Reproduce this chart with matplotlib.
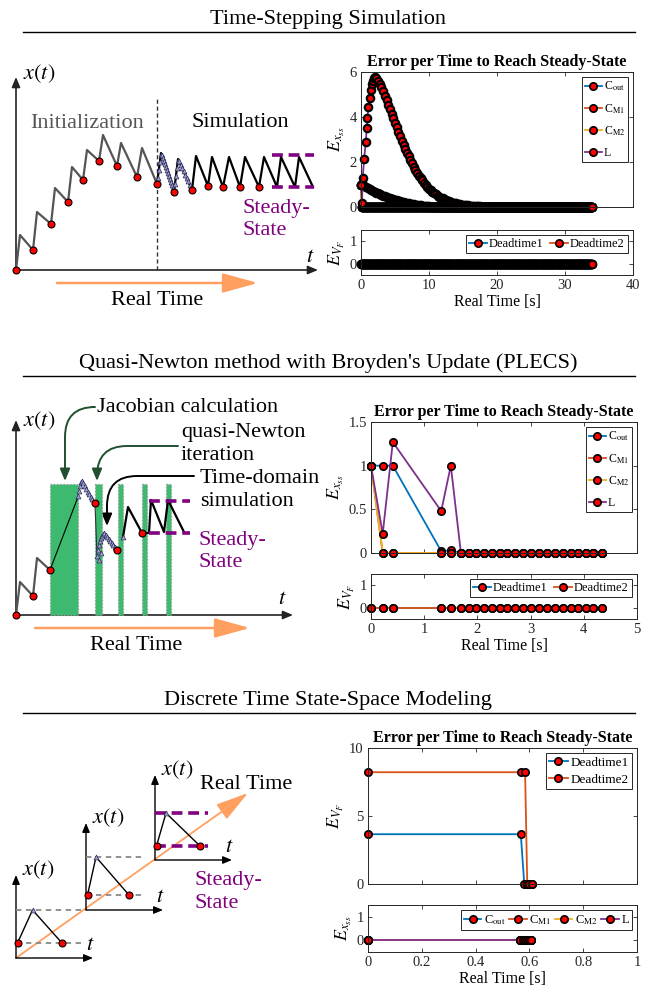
import numpy as np
import matplotlib
matplotlib.use('Agg')
import matplotlib.pyplot as plt
from matplotlib.patches import FancyArrowPatch, Rectangle
from matplotlib.ticker import FuncFormatter

plt.rcParams['font.family'] = ['Liberation Serif', 'DejaVu Serif']
plt.rcParams['mathtext.fontset'] = 'stix'

# ---------------- data for the right-hand error plots ----------------
state_names = [r'C$_\mathrm{out}$', r'C$_\mathrm{M1}$', r'C$_\mathrm{M2}$', 'L']
deadtime_names = ['Deadtime1', 'Deadtime2']
state_colors = ['#0072BD', '#D95319', '#EDB120', '#7E2F8E']

# time-stepping simulation
ts_step = 0.25        # sample spacing of the decaying curves
ts_zero_step = 0.1    # sample spacing of the settled (zero) parts
ts_end = 33.9
ts_L_rise_t = [0.0, 0.15, 0.25, 0.45, 0.7, 0.85, 0.95, 1.1, 1.25, 1.4, 1.55, 1.7, 1.85]
ts_L_rise = [1.0, 0.2, 1.27, 2.12, 2.9, 3.5, 3.94, 4.43, 4.83, 5.2, 5.47, 5.61, 5.72]
# L from 2.0 s onwards
ts_L_decay = [5.76, 5.72, 5.62, 5.48, 5.32, 5.14, 4.95, 4.75, 4.55, 4.35, 4.15, 3.95,
              3.75, 3.55, 3.35, 3.15, 2.95, 2.77, 2.6, 2.42, 2.25, 2.1, 1.95, 1.8,
              1.65, 1.52, 1.4, 1.29, 1.18, 1.08, 0.98, 0.9, 0.82, 0.75, 0.68, 0.62,
              0.56, 0.51, 0.46, 0.42, 0.38, 0.34, 0.31, 0.28, 0.25, 0.22, 0.2, 0.18,
              0.16, 0.14, 0.13, 0.11, 0.1, 0.09, 0.08, 0.07, 0.06, 0.05, 0.05, 0.04,
              0.04, 0.03, 0.03, 0.02, 0.02, 0.02, 0.01, 0.01, 0.01]
# C_out from 0 s onwards
ts_Cout = [1.0, 0.98, 0.95, 0.9, 0.85, 0.8, 0.76, 0.72, 0.68, 0.64, 0.61, 0.57,
           0.54, 0.51, 0.48, 0.45, 0.42, 0.39, 0.37, 0.34, 0.32, 0.3, 0.28, 0.26,
           0.24, 0.22, 0.2, 0.18, 0.17, 0.15, 0.14, 0.12, 0.11, 0.09, 0.08, 0.07,
           0.06, 0.05, 0.04, 0.035, 0.03, 0.02, 0.02, 0.01, 0.01]
ts_CM_start = [1.0]

# quasi-Newton (PLECS)
qn_t = [0, 0.22, 0.41, 1.32, 1.5, 1.69, 1.84, 1.98, 2.13, 2.27, 2.42, 2.56, 2.71,
        2.86, 3.01, 3.15, 3.31, 3.45, 3.6, 3.75, 3.89, 4.04, 4.18, 4.34]
qn_Cout = [1, 1, 1, 0.02, 0.03] + [0] * 19
qn_CM1 = [1] + [0] * 23
qn_CM2 = [1] + [0] * 23
qn_L = [1, 0.22, 1.27, 0.48, 1.0] + [0] * 19
qn_VF = [0] * 24

# discrete time state-space
ds_t1 = [0, 0.568, 0.581, 0.59, 0.6, 0.609]
ds_VF1 = [3.66, 3.66, 0, 0, 0, 0]
ds_t2 = [0, 0.568, 0.584, 0.592, 0.6, 0.609]
ds_VF2 = [8.22, 8.22, 8.22, 0, 0, 0]
ds_tx = [0, 0.566, 0.575, 0.584, 0.59, 0.598, 0.605]
ds_x = [0, 0, 0, 0, 0, 0, 0]

# ---------------- data for the left-hand sketches (pixel coords) ----------------
sk1_init_x = [16, 20, 33, 37, 51, 55, 68, 72, 83, 87, 99, 103, 117, 121, 137, 142, 157]
sk1_init_y = [270, 235, 250, 212, 224, 188, 202, 167, 180, 150, 161, 135, 166, 143, 177, 148, 184]
sk1_sim_x = [157, 161, 174, 178, 192, 196, 208, 212, 223, 229, 240, 245, 259, 264, 277, 281, 295, 299, 313]
sk1_sim_y = [184, 153, 192, 159, 190, 156, 186, 157, 187, 157, 187, 157, 187, 157, 187, 157, 187, 157, 187]
sk1_dot_x = [16, 33, 51, 68, 83, 99, 117, 137, 157, 174, 192, 208, 223, 240, 259]
sk1_dot_y = [270, 250, 224, 202, 180, 161, 166, 177, 184, 192, 190, 186, 187, 187, 187]
sk1_tri_x = [157.5, 158.5, 159.5, 160.5, 161.5, 162.5, 163.5, 164.5, 165.5, 166.5, 167.5,
             168.5, 169.5, 170.5, 171.5, 172.5, 175, 176, 177, 178, 179, 180.5, 182,
             183.5, 185, 186.5, 188, 189.5, 191]
sk1_tri_y = [178, 170, 162, 155, 155, 158, 161, 164, 167, 170, 173, 176, 179, 182, 185,
             188, 184, 176, 168, 161, 161, 164.5, 168, 171, 174.5, 178, 181, 184.5, 188]

sk2_init_x = [16, 20, 33, 37, 50]
sk2_init_y = [615, 582, 596, 558, 570]
sk2_jump_x = [50, 78]
sk2_jump_y = [570, 497]
sk2_drop_x = [95, 97]
sk2_drop_y = [503, 557]
sk2_sim_x = [123, 128, 142, 149, 151, 164, 168, 184]
sk2_sim_y = [537, 507, 533, 533, 500, 532, 500, 532]
sk2_dot_x = [16, 33, 50, 95, 117, 142]
sk2_dot_y = [615, 596, 570, 503, 550, 533]
sk2_tri_x = [78, 79, 80, 81, 82, 83, 84.5, 86, 87.5, 89, 90.5, 92, 93.5,
             97, 98, 99, 100, 101, 102, 103, 104, 105.5, 107, 108.5, 110, 111.5, 113,
             114.5, 116, 99, 101, 123]
sk2_tri_y = [496, 491, 486, 482, 481, 483, 486, 489, 492, 494, 497, 499, 502,
             556, 550, 545, 541, 538, 536, 534, 533, 535, 537, 539, 541, 543, 545,
             547, 549, 560, 553, 537]
sk2_bars_x = [50, 95, 118, 142, 166]
sk2_bars_w = [28, 7, 5, 5, 5]

sk3_origin_x = [16, 86, 155]
sk3_origin_y = [958, 910, 860]
sk3_top_y = [875, 823, 775]
sk3_right_x = [93, 163, 232]
sk3_low_y = [943, 895, 846]
sk3_high_y = [910, 857, 813]
sk3_peak_x = [32.5, 96, 166]
sk3_end_x = [62, 129, 200]
sk3_dash_end = [83, 143, 208]

purple = '#800080'
orange = '#FFA060'
dkgreen = '#1F4F2F'

fig = plt.figure(figsize=(6.55, 9.92), dpi=100)
ov = fig.add_axes([0, 0, 1, 1])
ov.set_xlim(0, 655)
ov.set_ylim(992, 0)
ov.axis('off')

# section headings
section_titles = ['Time-Stepping Simulation',
                  "Quasi-Newton method with Broyden's Update (PLECS)",
                  'Discrete Time State-Space Modeling']
title_base = [24, 368, 705]
rule_y = [32, 376, 713]
for s, yb, yr in zip(section_titles, title_base, rule_y):
    ov.text(328, yb, s, ha='center', va='baseline', fontsize=16)
    ov.plot([23, 635], [yr, yr], color='k', lw=1.0)


def arrow(p0, p1, color='k', lw=1.0, style='-|>,head_length=0.6,head_width=0.25', ms=10, conn=None):
    kw = {}
    if conn is not None:
        kw['connectionstyle'] = conn
    a = FancyArrowPatch(p0, p1, arrowstyle=style, mutation_scale=ms, color=color,
                        lw=lw, shrinkA=0, shrinkB=0, **kw)
    ov.add_patch(a)


def red_dots(xs, ys):
    ov.plot(xs, ys, 'o', ms=5, mfc='red', mec='k', mew=0.8, zorder=6)


def tris(xs, ys):
    ov.plot(xs, ys, '^', ms=3.5, mfc='#a0a0d4', mec='#2a2a55', mew=0.5, zorder=5)


big_head = '-|>,head_length=1.45,head_width=0.4'

# ---- sketch 1: time stepping ----
arrow((16, 270), (16, 77), color='#222222', lw=1.2)
arrow((16, 270), (318, 270), color='#222222', lw=1.2)
ov.text(39, 74, r'$x(t)$', ha='center', va='center', fontsize=16)
ov.text(310, 258, r'$t$', ha='center', va='center', fontsize=16)
ov.plot([157, 157], [270, 98], color='#333333', lw=1.0, ls=(0, (3, 2)))
ov.plot(sk1_init_x, sk1_init_y, color='#555555', lw=1.6)
ov.plot(sk1_sim_x, sk1_sim_y, color='k', lw=1.6)
tris(sk1_tri_x, sk1_tri_y)
red_dots(sk1_dot_x, sk1_dot_y)
ov.plot([272, 314], [155, 155], color=purple, lw=2.6, ls=(0, (3, 1.6)))
ov.plot([272, 314], [187, 187], color=purple, lw=2.6, ls=(0, (3, 1.6)))
ov.text(87, 128, 'Initialization', ha='center', va='baseline', fontsize=16, color='#555555')
ov.text(240, 127, 'Simulation', ha='center', va='baseline', fontsize=16)
ov.text(243, 213, 'Steady-', ha='left', va='baseline', fontsize=16, color=purple)
ov.text(243, 235, 'State', ha='left', va='baseline', fontsize=16, color=purple)
arrow((57, 283), (258, 283), color=orange, lw=1.8, style=big_head, ms=15)
ov.text(157, 305, 'Real Time', ha='center', va='baseline', fontsize=16)

# ---- sketch 2: quasi-Newton ----
for bx, bw in zip(sk2_bars_x, sk2_bars_w):
    ov.add_patch(Rectangle((bx, 484), bw, 131, facecolor='#3DBA6F', edgecolor='#999999',
                           lw=0.9, ls=':', zorder=2))
arrow((16, 615), (16, 420), color='#222222', lw=1.2)
arrow((16, 615), (293, 615), color='#222222', lw=1.2)
ov.text(39, 421, r'$x(t)$', ha='center', va='center', fontsize=16)
ov.text(282, 600, r'$t$', ha='center', va='center', fontsize=16)
ov.plot(sk2_init_x, sk2_init_y, color='#555555', lw=1.6, zorder=3)
ov.plot(sk2_jump_x, sk2_jump_y, color='k', lw=0.8, zorder=3)
ov.plot(sk2_drop_x, sk2_drop_y, color='#333333', lw=0.8, zorder=3)
ov.plot(sk2_sim_x, sk2_sim_y, color='k', lw=1.6, zorder=3)
tris(sk2_tri_x, sk2_tri_y)
red_dots(sk2_dot_x, sk2_dot_y)
ov.plot([149, 190], [501, 501], color=purple, lw=2.6, ls=(0, (3, 1.6)), zorder=4)
ov.plot([149, 190], [533, 533], color=purple, lw=2.6, ls=(0, (3, 1.6)), zorder=4)
ov.text(97, 412, 'Jacobian calculation', ha='left', va='baseline', fontsize=16)
ov.text(181, 437, 'quasi-Newton', ha='left', va='baseline', fontsize=16)
ov.text(181, 460, 'iteration', ha='left', va='baseline', fontsize=16)
ov.text(200, 483, 'Time-domain', ha='left', va='baseline', fontsize=16)
ov.text(200, 506, 'simulation', ha='left', va='baseline', fontsize=16)
ov.text(198, 545, 'Steady-', ha='left', va='baseline', fontsize=16, color=purple)
ov.text(198, 567, 'State', ha='left', va='baseline', fontsize=16, color=purple)
arrow((92, 407), (65, 481), color=dkgreen, lw=1.4, ms=12,
      conn='angle,angleA=0,angleB=90,rad=30')
arrow((178, 446), (97, 481), color=dkgreen, lw=1.4, ms=12,
      conn='angle,angleA=0,angleB=90,rad=30')
arrow((194, 476), (107, 526), color='k', lw=1.4, ms=12,
      conn='angle,angleA=0,angleB=90,rad=30')
arrow((35, 628), (250, 628), color=orange, lw=1.8, style=big_head, ms=15)
ov.text(136, 650, 'Real Time', ha='center', va='baseline', fontsize=16)

# ---- sketch 3: discrete time state space ----
arrow((16, 958), (248, 793), color=orange, lw=1.3, style=big_head, ms=14)
for i in range(3):
    ox, oy = sk3_origin_x[i], sk3_origin_y[i]
    arrow((ox, oy), (ox, sk3_top_y[i]), color='k', lw=1.0, ms=9)
    arrow((ox, oy), (sk3_right_x[i], oy), color='k', lw=1.0, ms=9)
    if i < 2:
        dc, dlw, dls = '#888888', 1.3, (0, (3, 2.5))
    else:
        dc, dlw, dls = purple, 2.6, (0, (3, 1.6))
    ov.plot([ox, sk3_dash_end[i]], [sk3_high_y[i]] * 2, color=dc, lw=dlw, ls=dls)
    ov.plot([ox, sk3_dash_end[i]], [sk3_low_y[i]] * 2, color=dc, lw=dlw, ls=dls)
    ov.plot([ox + 1.5, sk3_peak_x[i], sk3_end_x[i]],
            [sk3_low_y[i], sk3_high_y[i], sk3_low_y[i]], color='k', lw=1.0)
    tris([sk3_peak_x[i]], [sk3_high_y[i]])
    red_dots([ox + 1.5, sk3_end_x[i]], [sk3_low_y[i]] * 2)
    ov.text(ox + 22, sk3_top_y[i] - 5, r'$x(t)$', ha='center', va='center', fontsize=16)
    ov.text(sk3_right_x[i] - 3, oy - 12, r'$t$', ha='center', va='center', fontsize=16)
ov.text(200, 789, 'Real Time', ha='left', va='baseline', fontsize=16)
ov.text(194, 885, 'Steady-', ha='left', va='baseline', fontsize=16, color=purple)
ov.text(194, 908, 'State', ha='left', va='baseline', fontsize=16, color=purple)

# ---------------- right-hand MATLAB-style plots ----------------
W, H = 655.0, 992.0


def px_axes(x0, y0, x1, y1):
    return fig.add_axes([x0 / W, 1 - y1 / H, (x1 - x0) / W, (y1 - y0) / H])


fmt = FuncFormatter(lambda v, p: '%g' % v)
mk = dict(marker='o', mfc='red', mec='k', ms=5.3, mew=1.2, lw=1.3, clip_on=False)
mk_dense = dict(mk, mew=1.6)


def style(ax, xlim, ylim, xticks, yticks, show_x):
    ax.set_xlim(xlim)
    ax.set_ylim(ylim)
    ax.set_xticks(xticks)
    ax.set_yticks(yticks)
    ax.xaxis.set_major_formatter(fmt)
    ax.yaxis.set_major_formatter(fmt)
    ax.tick_params(direction='in', length=3, width=0.6, top=True, right=True,
                   labelsize=10.5, colors='#262626', pad=3)
    ax.tick_params(labelbottom=show_x)
    for s in ax.spines.values():
        s.set_color('#262626')
        s.set_linewidth(0.7)


def legend(ax, ncol, fs, spacing=0.35, colsp=0.5):
    lg = ax.legend(loc='upper right', ncol=ncol, fontsize=fs, fancybox=False,
                   framealpha=1, edgecolor='#262626', handlelength=1.4,
                   handletextpad=0.2, borderpad=0.25, labelspacing=spacing,
                   columnspacing=colsp, borderaxespad=0.4, numpoints=1)
    lg.get_frame().set_linewidth(0.7)
    for h in lg.legend_handles:
        h.set_markeredgewidth(1.2)


title = 'Error per Time to Reach Steady-State'

# panel 1: time stepping
zero_t = np.round(np.arange(0, ts_end + 0.001, ts_zero_step), 3)
n0 = len(zero_t)
decay_t = [2.0 + ts_step * k for k in range(len(ts_L_decay))]
L_t = ts_L_rise_t + decay_t + [t for t in zero_t if t > decay_t[-1]]
L_v = ts_L_rise + ts_L_decay + [0] * (len(L_t) - len(ts_L_rise) - len(ts_L_decay))
cout_t = [ts_step * k for k in range(len(ts_Cout))]
Cout_t = cout_t + [t for t in zero_t if t > cout_t[-1]]
Cout_v = ts_Cout + [0] * (len(Cout_t) - len(ts_Cout))
CM_v = ts_CM_start + [0] * (n0 - 1)
a1 = px_axes(361, 72, 633, 207)
a1.plot(Cout_t, Cout_v, color=state_colors[0], label=state_names[0], **mk_dense)
a1.plot(zero_t, CM_v, color=state_colors[1], label=state_names[1], **mk_dense)
a1.plot(zero_t, CM_v, color=state_colors[2], label=state_names[2], **mk_dense)
a1.plot(L_t, L_v, color=state_colors[3], label=state_names[3], **mk_dense)
# the last sample stays visible as a red marker
a1.plot([zero_t[-1]], [0], color=state_colors[3], **mk)
style(a1, (0, 40), (0, 6), [0, 10, 20, 30, 40], [0, 2, 4, 6], False)
a1.set_title(title, fontsize=11.5, fontweight='bold', pad=4)
a1.set_ylabel(r'$E_{x_{ss}}$', fontsize=13, labelpad=2)
legend(a1, 1, 8.5, spacing=0.75)

b1 = px_axes(361, 230, 633, 275)
b1.plot(zero_t, [0] * n0, color=state_colors[0], label=deadtime_names[0], **mk_dense)
b1.plot(zero_t, [0] * n0, color=state_colors[1], label=deadtime_names[1], **mk_dense)
b1.plot([zero_t[-1]], [0], color=state_colors[1], **mk)
style(b1, (0, 40), (-0.5, 1.5), [0, 10, 20, 30, 40], [0, 1], True)
b1.set_ylabel(r'$E_{V_F}$', fontsize=13, labelpad=2)
b1.set_xlabel('Real Time [s]', fontsize=11.5, labelpad=1)
legend(b1, 2, 9)

# panel 2: quasi-Newton
a2 = px_axes(371, 422, 637, 553)
for v, c, nm in zip([qn_Cout, qn_CM1, qn_CM2, qn_L], state_colors, state_names):
    a2.plot(qn_t, v, color=c, label=nm, **mk)
style(a2, (0, 5), (0, 1.5), [0, 1, 2, 3, 4, 5], [0, 0.5, 1, 1.5], False)
a2.set_title(title, fontsize=11.5, fontweight='bold', pad=4)
a2.set_ylabel(r'$E_{x_{ss}}$', fontsize=13, labelpad=2)
legend(a2, 1, 8.5, spacing=0.75)

b2 = px_axes(371, 574, 637, 619)
b2.plot(qn_t, qn_VF, color=state_colors[0], label=deadtime_names[0], **mk)
b2.plot(qn_t, qn_VF, color=state_colors[1], label=deadtime_names[1], **mk)
style(b2, (0, 5), (-0.5, 1.5), [0, 1, 2, 3, 4, 5], [0, 1], True)
b2.set_ylabel(r'$E_{V_F}$', fontsize=13, labelpad=2)
b2.set_xlabel('Real Time [s]', fontsize=11.5, labelpad=1)
legend(b2, 2, 9)

# panel 3: discrete time state space
a3 = px_axes(368, 748, 637, 884)
a3.plot(ds_t1, ds_VF1, color=state_colors[0], label=deadtime_names[0], **mk)
a3.plot(ds_t2, ds_VF2, color=state_colors[1], label=deadtime_names[1], **mk)
style(a3, (0, 1), (0, 10), [0, 0.2, 0.4, 0.6, 0.8, 1], [0, 5, 10], False)
a3.set_title(title, fontsize=11.5, fontweight='bold', pad=4)
a3.set_ylabel(r'$E_{V_F}$', fontsize=13, labelpad=2)
legend(a3, 1, 9.5)

b3 = px_axes(368, 905, 637, 952)
for c, nm in zip(state_colors, state_names):
    b3.plot(ds_tx, ds_x, color=c, label=nm, **mk)
style(b3, (0, 1), (-0.5, 1.5), [0, 0.2, 0.4, 0.6, 0.8, 1], [0, 1], True)
b3.set_ylabel(r'$E_{x_{ss}}$', fontsize=13, labelpad=2)
b3.set_xlabel('Real Time [s]', fontsize=11.5, labelpad=1)
legend(b3, 4, 9, colsp=0.3)

fig.savefig('out.png', dpi=100, facecolor='white')
